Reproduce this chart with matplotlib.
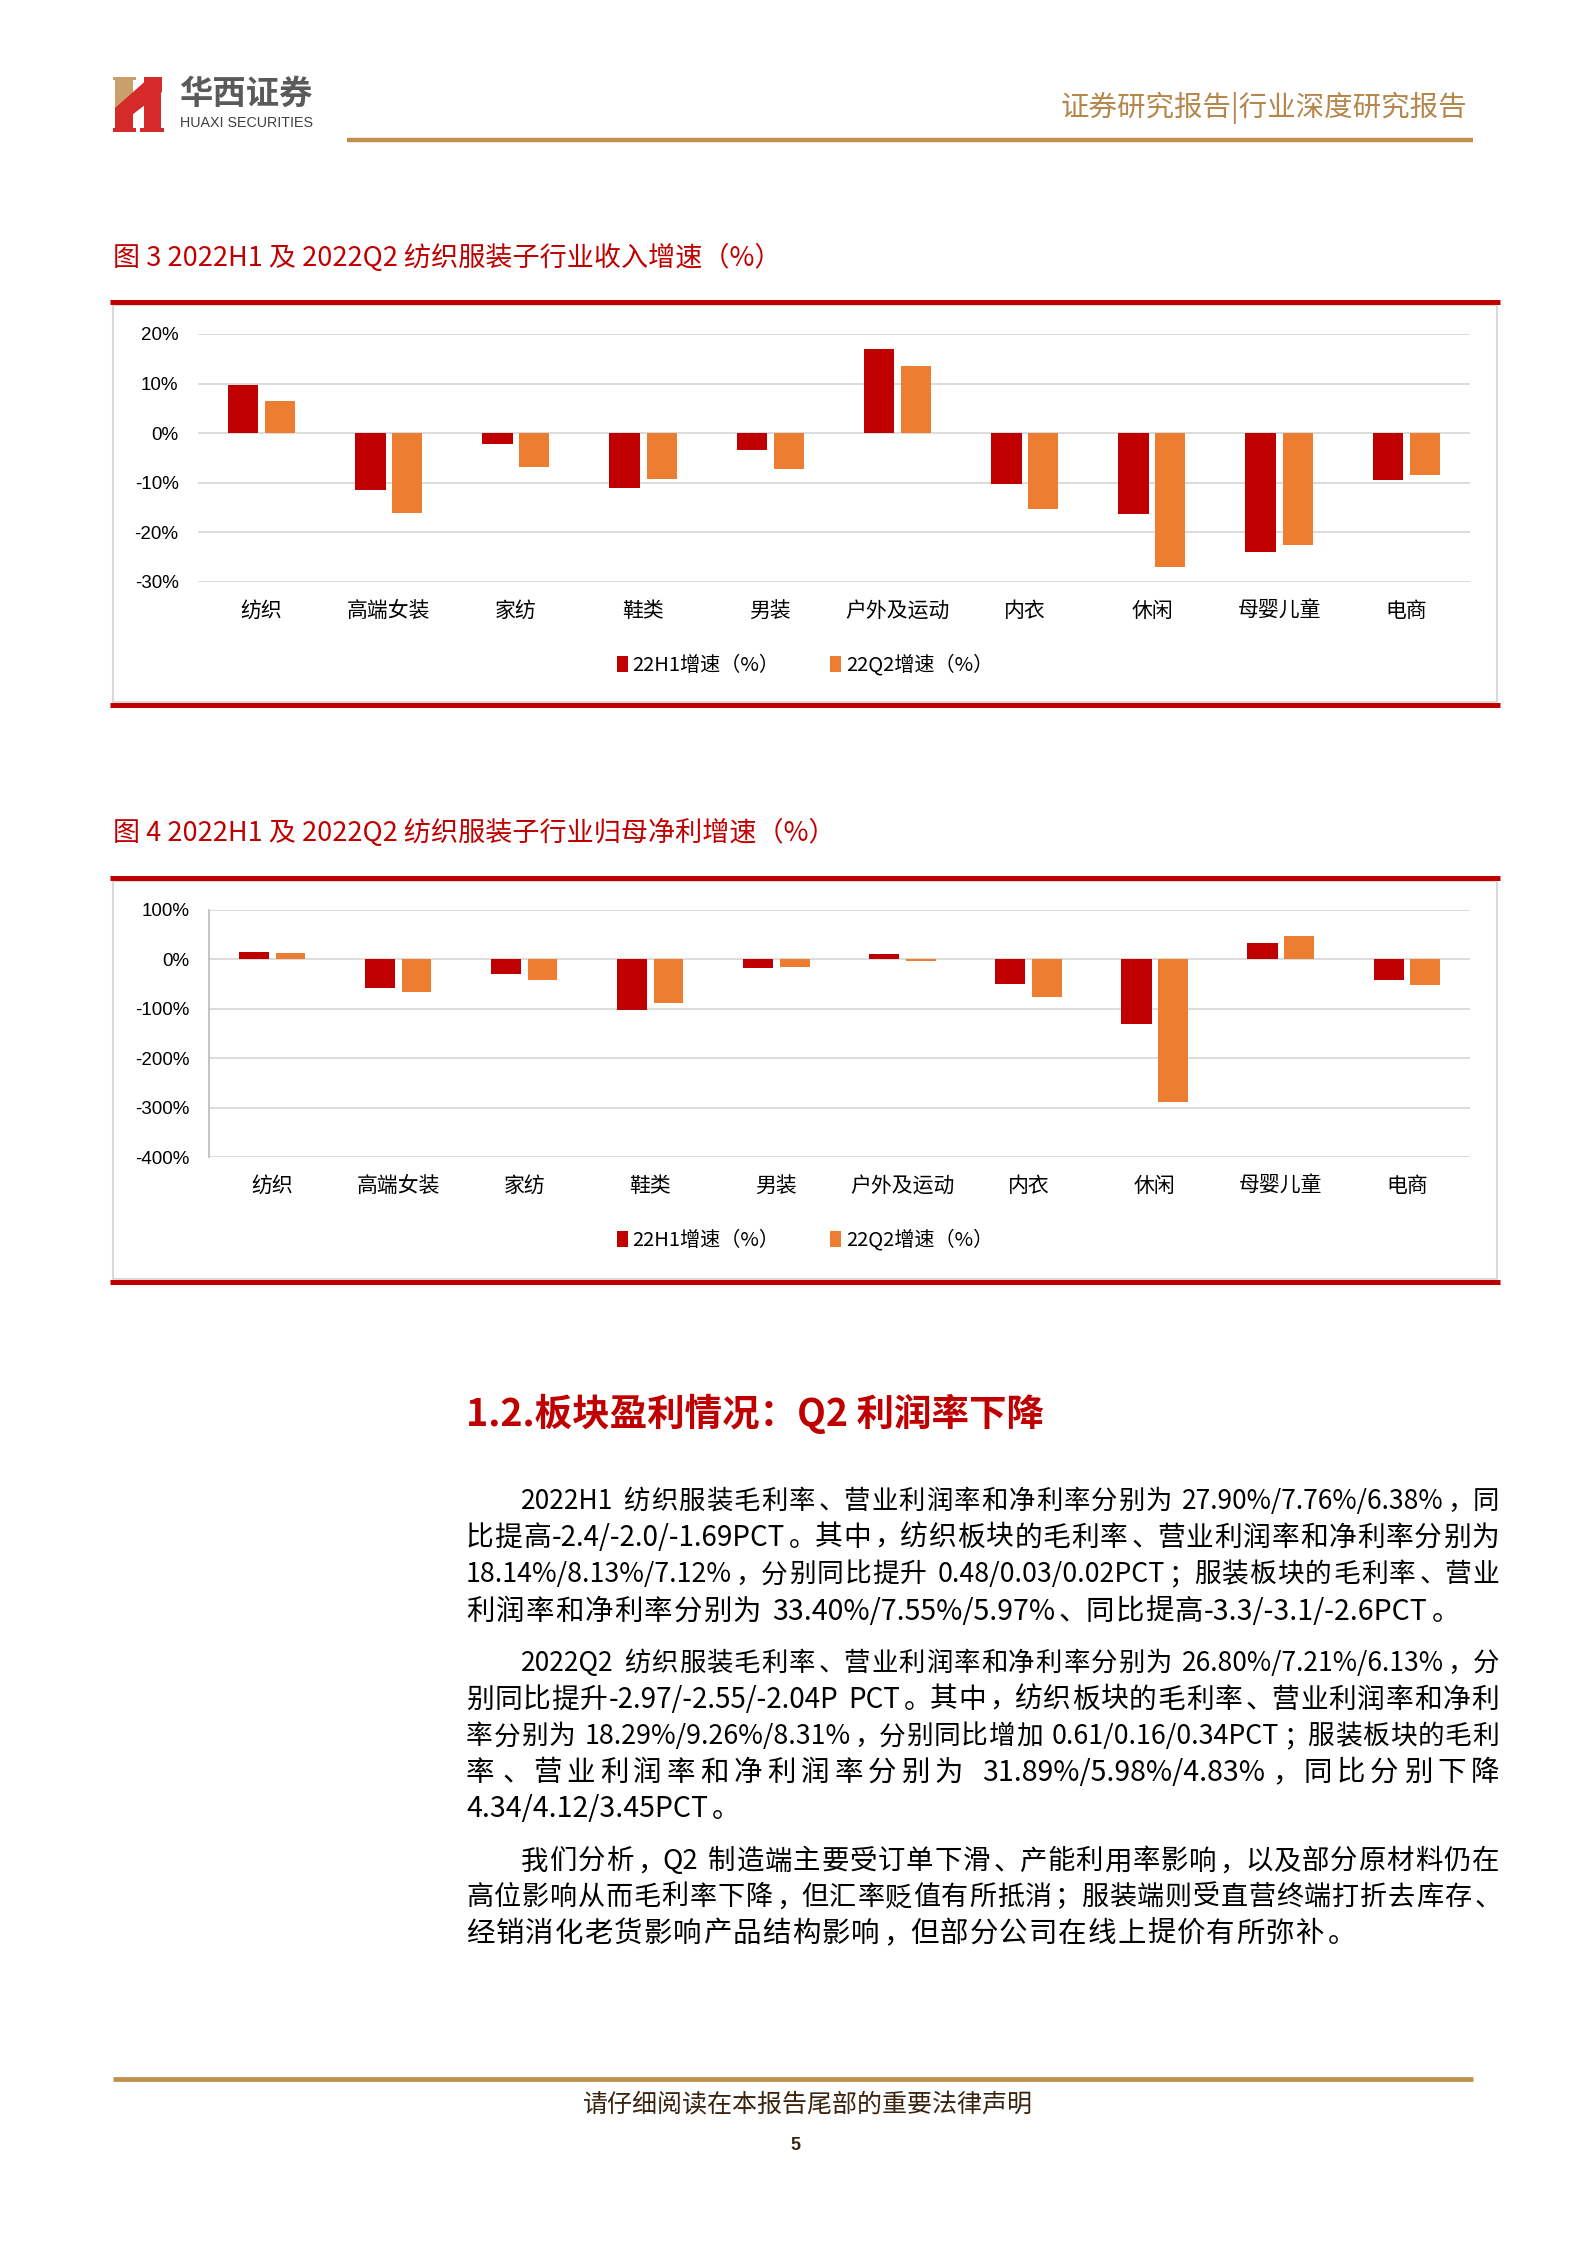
import matplotlib
matplotlib.use('Agg')
import matplotlib.pyplot as plt
from matplotlib.patches import Rectangle, Polygon
import numpy as np

plt.rcParams['font.family'] = ['Noto Sans CJK SC', 'DejaVu Sans']

W, H = 1587, 2245

# chart data
categories = ['纺织', '高端女装', '家纺', '鞋类', '男装', '户外及运动', '内衣', '休闲', '母婴儿童', '电商']
series_names = ['22H1增速（%）', '22Q2增速（%）']
rev_h1 = [9.7, -11.5, -2.2, -11.0, -3.4, 17.0, -10.2, -16.3, -23.9, -9.4]
rev_q2 = [6.4, -16.1, -6.8, -9.2, -7.2, 13.5, -15.3, -26.9, -22.5, -8.4]
np_h1 = [15, -58, -30, -103, -18, 10, -50, -131, 34, -42]
np_q2 = [12, -67, -42, -89, -16, -4, -77, -288, 48, -52]
rev_ticks = [-30, -20, -10, 0, 10, 20]
np_ticks = [-400, -300, -200, -100, 0, 100]

title3 = '图 3 2022H1 及 2022Q2 纺织服装子行业收入增速（%）'
title4 = '图 4 2022H1 及 2022Q2 纺织服装子行业归母净利增速（%）'
heading = '1.2.板块盈利情况：Q2 利润率下降'

paragraphs = [
    ['2022H1 纺织服装毛利率、营业利润率和净利率分别为 27.90%/7.76%/6.38%，同',
     '比提高-2.4/-2.0/-1.69PCT。其中，纺织板块的毛利率、营业利润率和净利率分别为',
     '18.14%/8.13%/7.12%，分别同比提升 0.48/0.03/0.02PCT；服装板块的毛利率、营业',
     '利润率和净利率分别为 33.40%/7.55%/5.97%、同比提高-3.3/-3.1/-2.6PCT。'],
    ['2022Q2 纺织服装毛利率、营业利润率和净利率分别为 26.80%/7.21%/6.13%，分',
     '别同比提升-2.97/-2.55/-2.04P PCT。其中，纺织板块的毛利率、营业利润率和净利',
     '率分别为 18.29%/9.26%/8.31%，分别同比增加 0.61/0.16/0.34PCT；服装板块的毛利',
     '率、营业利润率和净利润率分别为 31.89%/5.98%/4.83%，同比分别下降',
     '4.34/4.12/3.45PCT。'],
    ['我们分析，Q2 制造端主要受订单下滑、产能利用率影响，以及部分原材料仍在',
     '高位影响从而毛利率下降，但汇率贬值有所抵消；服装端则受直营终端打折去库存、',
     '经销消化老货影响产品结构影响，但部分公司在线上提价有所弥补。'],
]
para_y = [[1499, 1535, 1572, 1609], [1661, 1697, 1734, 1770, 1806], [1859, 1895, 1931]]

RED = '#C00000'
ORANGE = '#ED7D31'
GOLD = '#BF8F4E'
GRID = '#D9D9D9'

fig = plt.figure(figsize=(W / 100, H / 100), dpi=100)
fig.patch.set_facecolor('white')

# overlay in pixel coords for page furniture
ov = fig.add_axes([0, 0, 1, 1], zorder=0)
ov.set_xlim(0, W)
ov.set_ylim(H, 0)
ov.axis('off')

# logo
ov.add_patch(Rectangle((115, 77), 18, 36, color='#C9A06A', lw=0))
ov.add_patch(Rectangle((113, 77), 23, 3, color='#C9A06A', lw=0))
ov.add_patch(Polygon([(150, 77), (162, 77), (162, 92), (128, 118), (115, 118), (115, 108)], color='#D42A2A', lw=0))
ov.add_patch(Rectangle((115, 112), 18, 20, color='#D42A2A', lw=0))
ov.add_patch(Rectangle((113, 128), 23, 4, color='#D42A2A', lw=0))
ov.add_patch(Rectangle((144, 77), 17, 55, color='#D42A2A', lw=0))
ov.add_patch(Rectangle((140, 128), 24, 4, color='#D42A2A', lw=0))
ov.text(179, 94, '华西证券', fontsize=24, fontweight='bold', color='#5a5a5a', ha='left', va='center')
ov.text(180, 123, 'HUAXI SECURITIES', fontsize=10.3, color='#404040', ha='left', va='center',
        family='Liberation Sans')

# header
ov.text(1467, 108, '证券研究报告|行业深度研究报告', fontsize=20.5, color='#B5874C', ha='right', va='center')
ov.plot([347, 1473], [140, 140], color=GOLD, lw=3.2, solid_capstyle='butt')


def chart_frame(title, title_y, top, bottom):
    ov.text(113, title_y, title, fontsize=19.5, color=RED, ha='left', va='center')
    ov.add_patch(Rectangle((113, top + 3), 1384, bottom - top - 6, fill=False, ec=GRID, lw=1.5))
    ov.plot([110, 1500], [top, top], color=RED, lw=3.6, solid_capstyle='butt')
    ov.plot([110, 1500], [bottom, bottom], color=RED, lw=3.6, solid_capstyle='butt')


def bar_chart(rect, h1, q2, ticks, left_spine, legend_y):
    x0, x1, y0, y1 = rect
    ax = fig.add_axes([x0 / W, 1 - y1 / H, (x1 - x0) / W, (y1 - y0) / H], zorder=1)
    ax.set_facecolor('none')
    x = np.arange(len(categories))
    b1 = ax.bar(x - 0.145, h1, width=0.24, color=RED, zorder=3)
    b2 = ax.bar(x + 0.145, q2, width=0.235, color=ORANGE, zorder=3)
    ax.set_xlim(-0.5, len(categories) - 0.5)
    ax.set_ylim(ticks[0], ticks[-1])
    ax.set_yticks(ticks)
    ax.set_yticklabels([f'{t}%' for t in ticks], family='Liberation Sans', fontsize=13.5)
    ax.set_xticks(x)
    ax.set_xticklabels(categories, fontsize=15)
    ax.yaxis.grid(True, color=GRID, lw=1.3)
    ax.set_axisbelow(True)
    for s in ax.spines.values():
        s.set_visible(False)
    if left_spine:
        ax.spines['left'].set_visible(True)
        ax.spines['left'].set_color('#BFBFBF')
        ax.spines['left'].set_linewidth(1.3)
    ax.tick_params(axis='y', length=0, pad=14)
    ax.tick_params(axis='x', length=0, pad=13)
    ax.legend([b1, b2], series_names, loc='center', bbox_to_anchor=(805 / W, 1 - legend_y / H),
              bbox_transform=fig.transFigure, ncol=2, frameon=False, fontsize=14.5,
              handlelength=0.55, handleheight=0.8, handletextpad=0.25, columnspacing=2.5)
    return ax


chart_frame(title3, 258, 302, 705)
bar_chart((198, 1470, 334, 582), rev_h1, rev_q2, rev_ticks, False, 665)

chart_frame(title4, 833, 878, 1282)
bar_chart((209, 1470, 910, 1157), np_h1, np_q2, np_ticks, True, 1240)

# section heading
ov.text(466, 1414, heading, fontsize=27, fontweight='bold', color=RED, ha='left', va='center')

# body text, justified line by line
renderer = fig.canvas.get_renderer()
BODY = 20.5
cache = {}


def split_cells(line):
    out, buf = [], ''
    for ch in line:
        if ord(ch) < 128 and ch != ' ':
            buf += ch
        else:
            if buf:
                out.append(buf)
                buf = ''
            out.append(ch)
    if buf:
        out.append(buf)
    return out


def cell_width(tok, size):
    em = size * 100 / 72
    if tok == ' ':
        return em * 0.3
    if ord(tok[0]) >= 128:
        return em
    if (tok, size) not in cache:
        t = ov.text(0, 0, tok, fontsize=size)
        cache[(tok, size)] = t.get_window_extent(renderer).width
        t.remove()
    return cache[(tok, size)]


def put_line(line, xa, xb, yc, justify):
    toks = split_cells(line)
    size = BODY
    ws = [cell_width(t, size) for t in toks]
    # shrink the line a little if it would not fit
    while sum(ws) + 0.03 * size * (len(toks) - 1) > xb - xa:
        size -= 0.25
        ws = [cell_width(t, size) for t in toks]
    em = size * 100 / 72
    gap = (xb - xa - sum(ws)) / (len(toks) - 1) if justify else em * 0.04
    xx = xa
    base = yc + 0.38 * em
    for t, w in zip(toks, ws):
        if t != ' ':
            if ord(t[0]) >= 128:
                if t in '，。、；：':
                    ov.text(xx + 0.1 * em, base, t, fontsize=size, ha='left', va='baseline')
                else:
                    ov.text(xx + w / 2, base, t, fontsize=size, ha='center', va='baseline')
            else:
                ov.text(xx, base, t, fontsize=size, ha='left', va='baseline')
        xx += w + gap


for lines, ys in zip(paragraphs, para_y):
    for i, (ln, yc) in enumerate(zip(lines, ys)):
        xa = 521 if i == 0 else 466
        put_line(ln, xa, 1499, yc, i < len(lines) - 1)

# footer
ov.plot([113, 1473], [2079, 2079], color=GOLD, lw=3.4, solid_capstyle='butt')
ov.text(808, 2105, '请仔细阅读在本报告尾部的重要法律声明', fontsize=18, color='#3a2410', ha='center', va='center')
ov.text(795, 2146, '5', fontsize=13, fontweight='bold', color='#3a2410', ha='center', va='center',
        family='Liberation Sans')

fig.savefig('out.png', dpi=100)
